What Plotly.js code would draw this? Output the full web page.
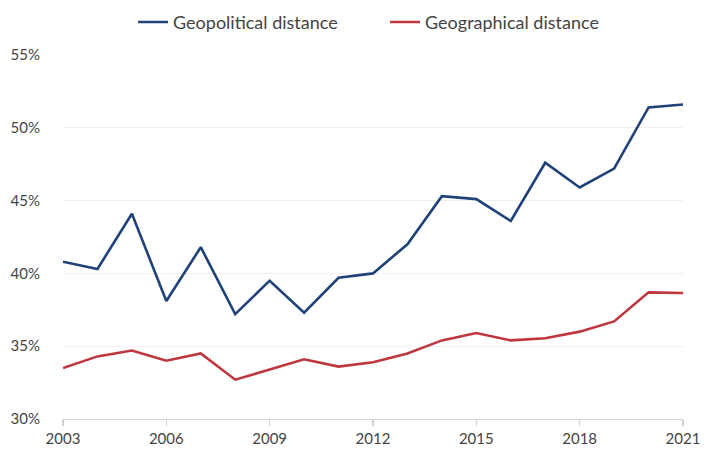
<!DOCTYPE html>
<html>
<head>
<meta charset="utf-8">
<script src="https://cdn.plot.ly/plotly-3.0.1.min.js"></script>
<style>
  html, body { margin: 0; padding: 0; background: #fff; }
  #chart { width: 704px; height: 454px; }
</style>
</head>
<body>
<div id="chart"></div>
<script>
// Years on the x axis
const years = [2003, 2004, 2005, 2006, 2007, 2008, 2009, 2010, 2011, 2012,
               2013, 2014, 2015, 2016, 2017, 2018, 2019, 2020, 2021];

// Share (%) for each distance measure
const geopolitical = [40.8, 40.3, 44.1, 38.1, 41.8, 37.2, 39.5, 37.3, 39.7, 40.0,
                      42.0, 45.3, 45.1, 43.6, 47.6, 45.9, 47.2, 51.4, 51.6];
const geographical = [33.5, 34.3, 34.7, 34.0, 34.5, 32.7, 33.4, 34.1, 33.6, 33.9,
                      34.5, 35.4, 35.9, 35.4, 35.55, 36.0, 36.7, 38.7, 38.65];

const seriesNames = ['Geopolitical distance', 'Geographical distance'];
const xTickVals = [2003, 2006, 2009, 2012, 2015, 2018, 2021];
const yTickVals = [30, 35, 40, 45, 50, 55];
const yTickText = ['30%', '35%', '40%', '45%', '50%', '55%'];

const FONT = 'Lato, "Open Sans", sans-serif';

const traces = [
  {
    x: years, y: geopolitical, name: seriesNames[0],
    type: 'scatter', mode: 'lines',
    line: { color: '#1f4278', width: 2.6 }
  },
  {
    x: years, y: geographical, name: seriesNames[1],
    type: 'scatter', mode: 'lines',
    line: { color: '#c0363f', width: 2.6 }
  }
];

const layout = {
  width: 704, height: 454,
  margin: { l: 63, r: 21, t: 55, b: 35, autoexpand: false },
  paper_bgcolor: '#fff', plot_bgcolor: '#fff',
  font: { family: FONT, size: 15, color: '#444' },
  showlegend: true,
  legend: {
    orientation: 'h', x: 0.113, xanchor: 'left', y: 1.09, yanchor: 'middle',
    yref: 'paper', font: { family: FONT, size: 18, color: '#444' },
    itemwidth: 30, entrywidth: 207, entrywidthmode: 'pixels',
    bgcolor: 'rgba(0,0,0,0)', traceorder: 'normal'
  },
  xaxis: {
    range: [2003, 2021], tickvals: xTickVals, ticktext: xTickVals.map(String),
    showgrid: false, zeroline: false,
    showline: true, linecolor: '#d0d0d0', linewidth: 1.2,
    ticks: 'outside', ticklen: 6, tickcolor: '#d0d0d0', tickwidth: 1.2,
    tickfont: { family: FONT, size: 15, color: '#444' }
  },
  yaxis: {
    range: [30, 55], tickvals: yTickVals, ticktext: yTickText,
    showgrid: true, gridcolor: '#f0f0f0', gridwidth: 1,
    zeroline: false, showline: false, ticks: '',
    ticklabelstandoff: 22,
    tickfont: { family: FONT, size: 15, color: '#444' }
  }
};

Plotly.newPlot('chart', traces, layout, { displayModeBar: false, staticPlot: true });
</script>
</body>
</html>
